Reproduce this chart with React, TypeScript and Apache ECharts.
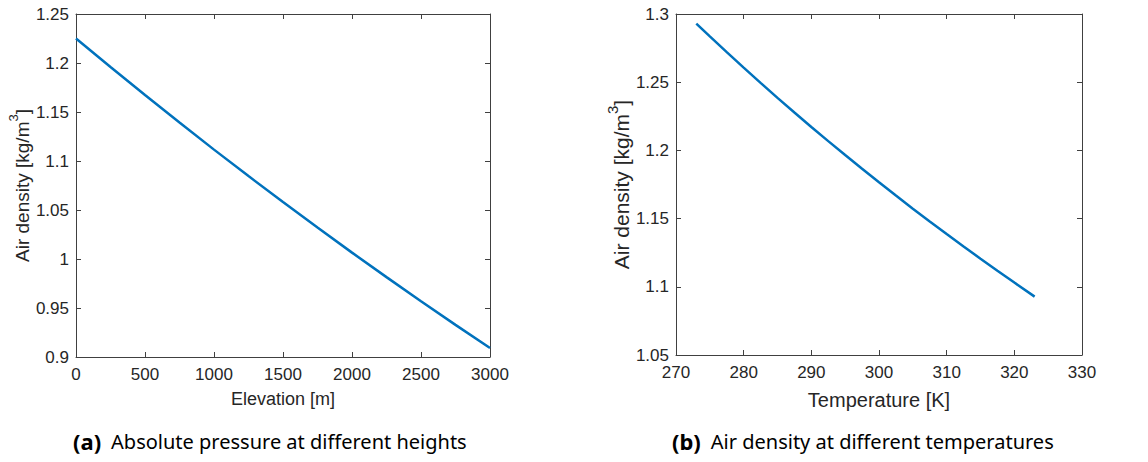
import React, { useEffect, useRef } from "react";
import * as echarts from "echarts";

const elevation = [0, 250, 500, 750, 1000, 1250, 1500, 1750, 2000, 2250, 2500, 2750, 3000];
const densityByElevation = [1.225, 1.196, 1.1673, 1.1392, 1.1116, 1.0846, 1.0581, 1.0321, 1.0065, 0.9815, 0.9569, 0.9328, 0.9091];

const temperature = [273, 275, 277.5, 280, 282.5, 285, 287.5, 290, 292.5, 295, 297.5, 300, 302.5, 305, 307.5, 310, 312.5, 315, 317.5, 320, 323];
const densityByTemperature = [1.293, 1.2836, 1.272, 1.2607, 1.2495, 1.2385, 1.2278, 1.2172, 1.2068, 1.1966, 1.1865, 1.1766, 1.1669, 1.1573, 1.1479, 1.1387, 1.1296, 1.1206, 1.1118, 1.1031, 1.0928];

const captionA = "Absolute pressure at different heights";
const captionB = "Air density at different temperatures";

const AXIS_COLOR = "#404040";
const TEXT_COLOR = "#262626";
const LINE_COLOR = "#0072BD";
const TICK_FONT = "'Liberation Sans', Arial, sans-serif";
const CAP_FONT = "'Noto Sans', sans-serif";

export default function App() {
  const ref = useRef<HTMLDivElement>(null);
  useEffect(() => {
    if (!ref.current) return;
    const chart = echarts.init(ref.current, null, { renderer: "svg" });

    const mkX = (grid: number, min: number, max: number, interval: number, name: string, fs: number, nfs: number, gap: number) => [
      {
        type: "value", gridIndex: grid, min, max, interval, position: "bottom",
        name, nameLocation: "middle", nameGap: gap,
        nameTextStyle: { fontFamily: TICK_FONT, fontSize: nfs, color: TEXT_COLOR },
        axisLine: { show: true, onZero: false, lineStyle: { color: AXIS_COLOR, width: 1 } },
        axisTick: { show: true, inside: true, length: 5, lineStyle: { color: AXIS_COLOR } },
        axisLabel: { fontFamily: TICK_FONT, fontSize: fs, color: TEXT_COLOR, margin: 9, formatter: (v: number) => String(v) },
        splitLine: { show: false },
      },
      {
        type: "value", gridIndex: grid, min, max, interval, position: "top",
        axisLine: { show: true, onZero: false, lineStyle: { color: AXIS_COLOR, width: 1 } },
        axisTick: { show: true, inside: true, length: 5, lineStyle: { color: AXIS_COLOR } },
        axisLabel: { show: false },
        splitLine: { show: false },
      },
    ];
    const mkY = (grid: number, min: number, max: number, interval: number, fs: number, nfs: number, gap: number) => [
      {
        type: "value", gridIndex: grid, min, max, interval, position: "left",
        name: "{r|Air density [kg/m}{s|3}{r|]}", nameLocation: "middle", nameGap: gap, nameRotate: 90,
        nameTextStyle: {
          fontFamily: TICK_FONT, color: TEXT_COLOR,
          rich: {
            r: { fontFamily: TICK_FONT, fontSize: nfs, color: TEXT_COLOR, verticalAlign: "bottom", lineHeight: nfs + 6 },
            s: { fontFamily: TICK_FONT, fontSize: Math.round(nfs * 0.7), color: TEXT_COLOR, verticalAlign: "top", lineHeight: nfs + 4 },
          },
        },
        axisLine: { show: true, onZero: false, lineStyle: { color: AXIS_COLOR, width: 1 } },
        axisTick: { show: true, inside: true, length: 5, lineStyle: { color: AXIS_COLOR } },
        axisLabel: { fontFamily: TICK_FONT, fontSize: fs, color: TEXT_COLOR, margin: 7, formatter: (v: number) => String(+v.toFixed(2)) },
        splitLine: { show: false },
      },
      {
        type: "value", gridIndex: grid, min, max, interval, position: "right",
        axisLine: { show: true, onZero: false, lineStyle: { color: AXIS_COLOR, width: 1 } },
        axisTick: { show: true, inside: true, length: 5, lineStyle: { color: AXIS_COLOR } },
        axisLabel: { show: false },
        splitLine: { show: false },
      },
    ];

    const capRich = {
      b: { fontFamily: CAP_FONT, fontSize: 22, fontWeight: "bold", fill: "#000", padding: [0, 10, 0, 0] },
      n: { fontFamily: CAP_FONT, fontSize: 20, fill: "#000" },
    };

    chart.setOption({
      animation: false,
      backgroundColor: "#ffffff",
      grid: [
        { left: 76, top: 14, width: 414, height: 343 },
        { left: 676, top: 14, width: 406, height: 341 },
      ],
      xAxis: [
        ...mkX(0, 0, 3000, 500, "Elevation [m]", 17, 18, 33),
        ...mkX(1, 270, 330, 10, "Temperature [K]", 17, 20, 35),
      ],
      yAxis: [
        ...mkY(0, 0.9, 1.25, 0.05, 17, 19, 44),
        ...mkY(1, 1.05, 1.3, 0.05, 17, 21, 41),
      ],
      series: [
        {
          type: "line", xAxisIndex: 0, yAxisIndex: 0, showSymbol: false, smooth: false,
          data: elevation.map((x, i) => [x, densityByElevation[i]]),
          lineStyle: { color: LINE_COLOR, width: 2.5 },
        },
        {
          type: "line", xAxisIndex: 2, yAxisIndex: 2, showSymbol: false, smooth: false,
          data: temperature.map((x, i) => [x, densityByTemperature[i]]),
          lineStyle: { color: LINE_COLOR, width: 2.5 },
        },
      ],
      graphic: [
        {
          type: "text", left: 73, top: 430,
          style: { text: "{b|(a)}{n|" + captionA + "}", rich: capRich },
        },
        {
          type: "text", left: 672, top: 430,
          style: { text: "{b|(b)}{n|" + captionB + "}", rich: capRich },
        },
      ],
    });
    return () => chart.dispose();
  }, []);
  return <div ref={ref} style={{ position: "absolute", left: 0, top: 0, width: 1148, height: 462 }} />;
}
